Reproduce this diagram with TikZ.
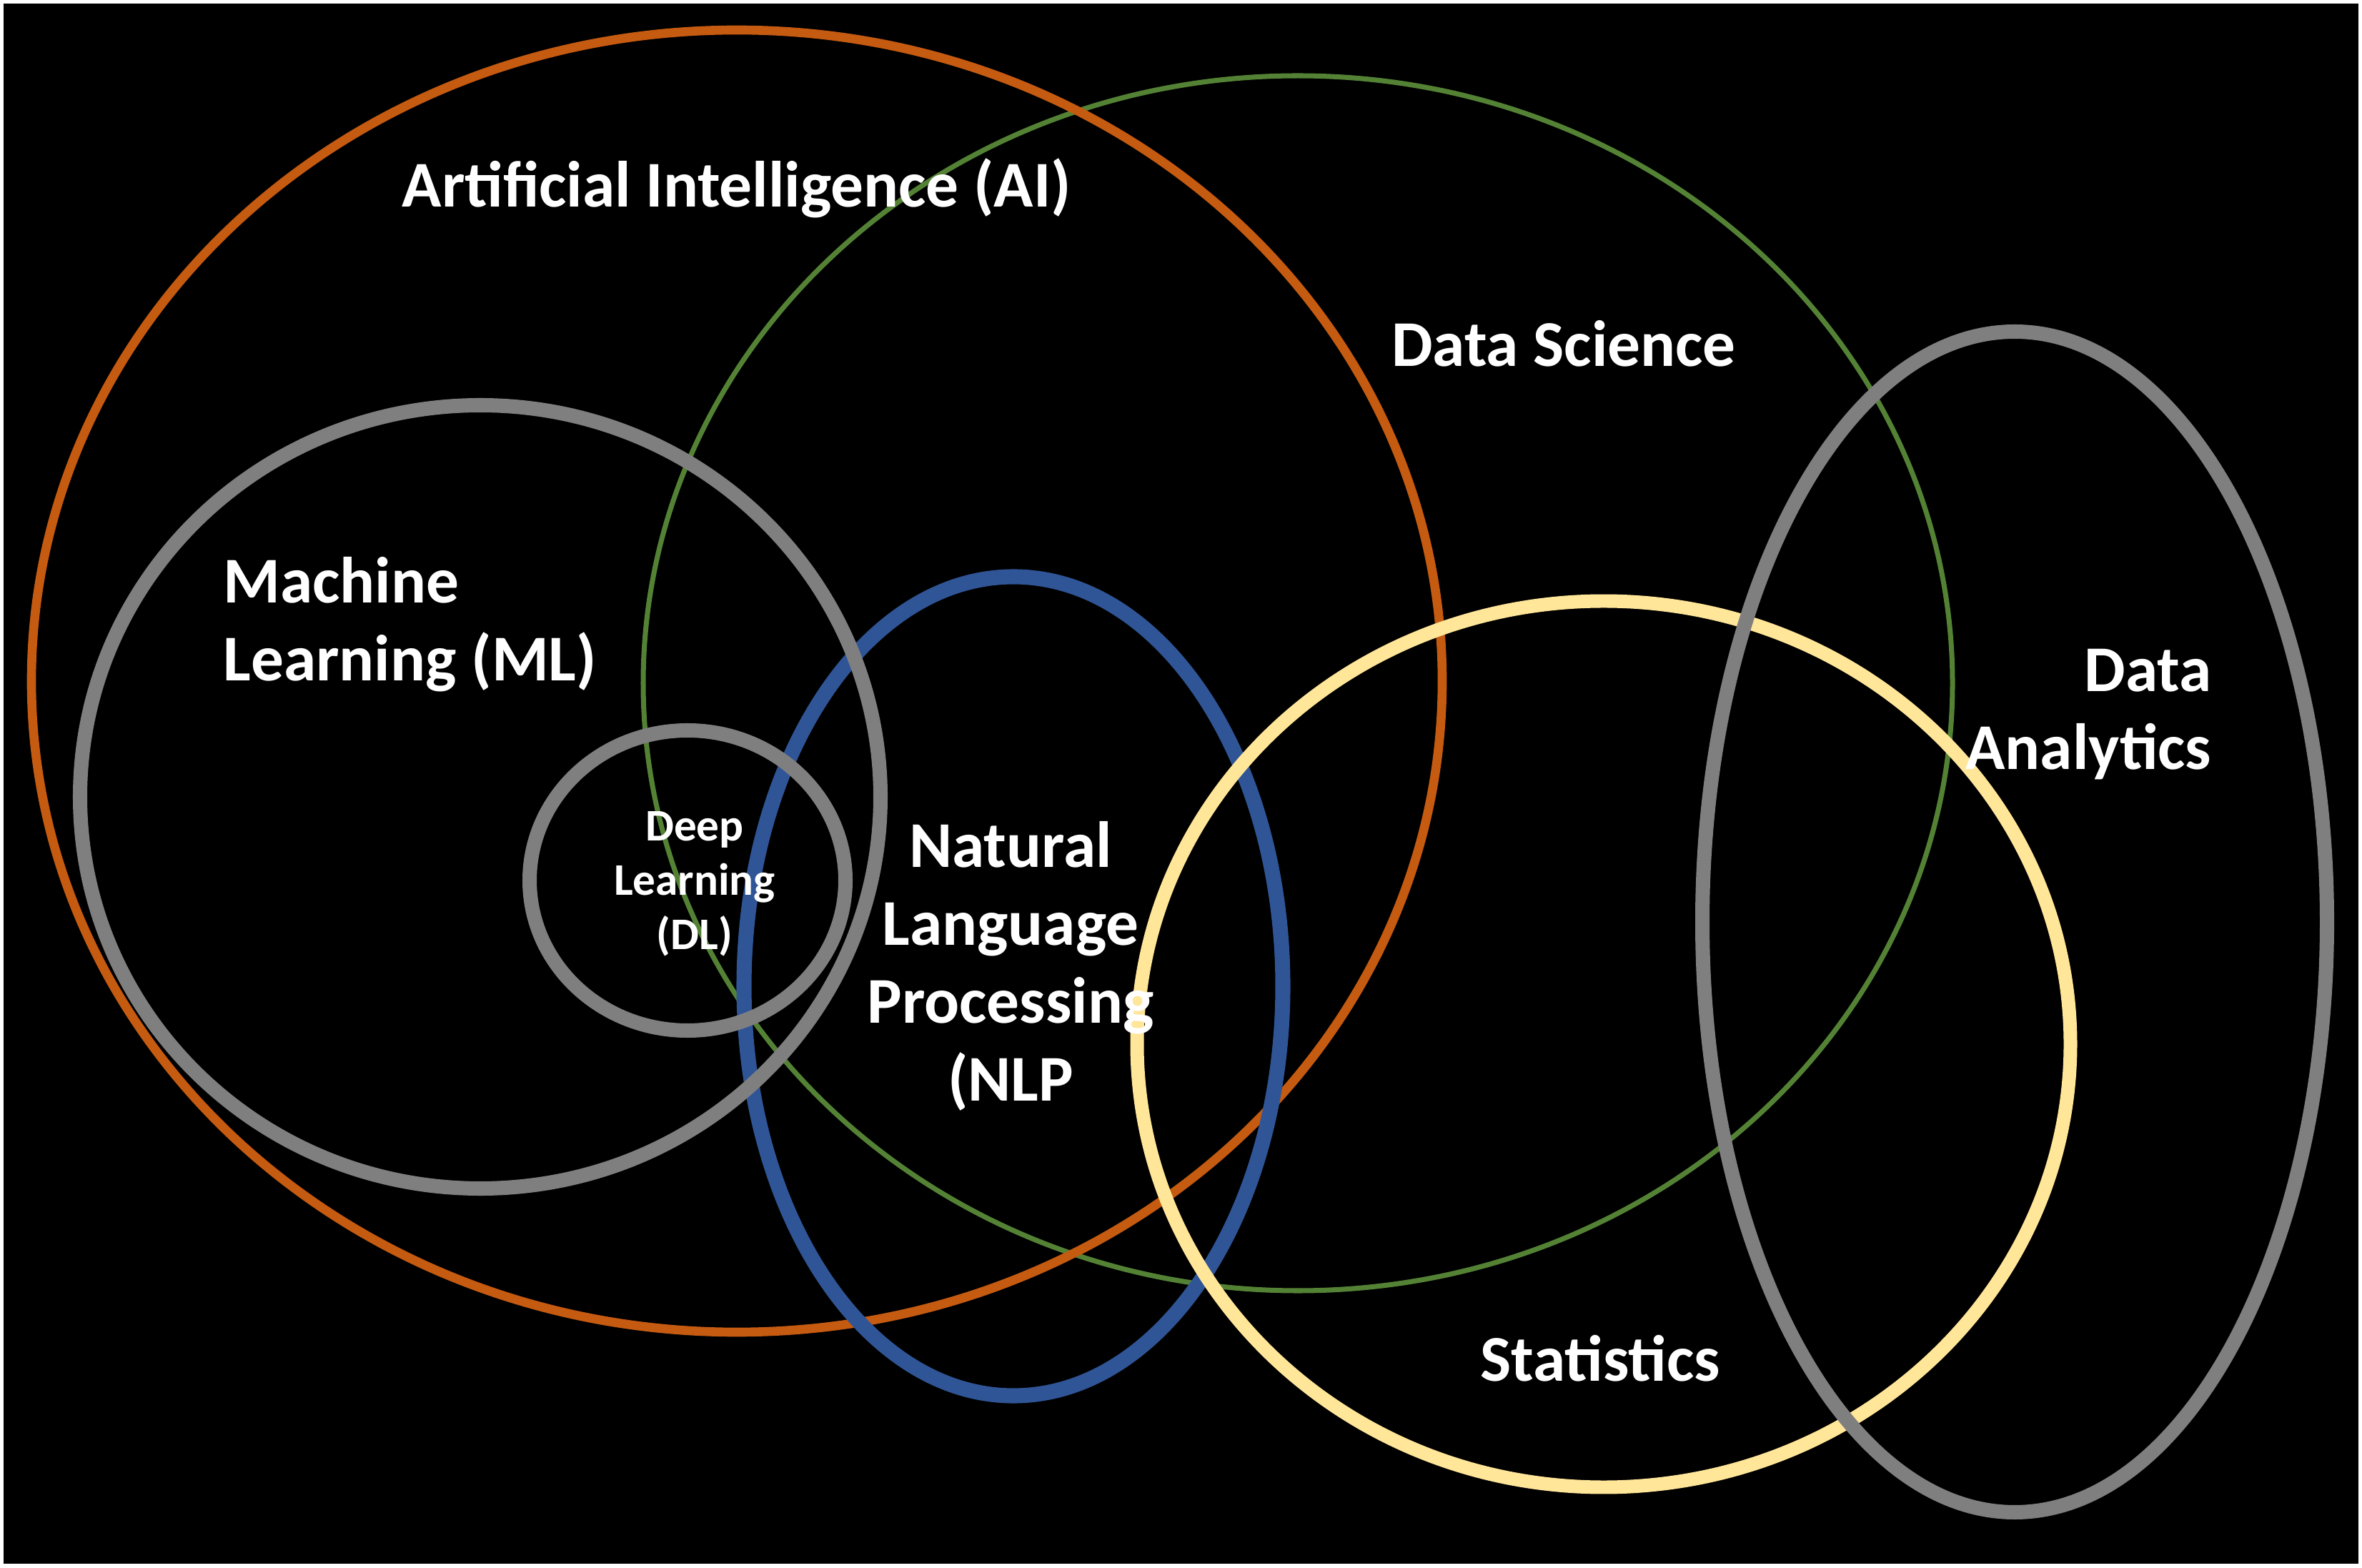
\documentclass[tikz,border=0pt]{standalone}
\usepackage{fontspec}
\setmainfont{Carlito}
\definecolor{aiorange}{HTML}{C55A11}
\definecolor{dsgreen}{HTML}{548235}
\definecolor{mlgray}{HTML}{7F7F7F}
\definecolor{nlpblue}{HTML}{2F5597}
\definecolor{statyellow}{HTML}{FFE699}
\begin{document}
\begin{tikzpicture}[
  big/.style={font=\bfseries\fontsize{26}{31}\selectfont, text=white, inner sep=0pt},
  small/.style={font=\bfseries\fontsize{18}{21.6}\selectfont, text=white, inner sep=0pt},
  ring/.style={line width=5.7pt, draw=mlgray}
]
\useasboundingbox [fill=white] (0,0) rectangle (33.05,21.93);
\fill [black] (0.05,0.05) rectangle (33.00,21.88);

% fields as ellipses
\draw [dsgreen, line width=2pt] (18.16,12.37) ellipse [x radius=9.16, y radius=8.50];
\draw [aiorange, line width=3.6pt] (10.31,12.40) ellipse [x radius=9.87, y radius=9.11];
\draw [nlpblue, line width=6pt] (14.18,8.13) ellipse [x radius=3.77, y radius=5.73];
\draw [ring] (6.72,10.78) ellipse [x radius=5.60, y radius=5.48];
\draw [ring] (9.62,9.61) ellipse [x radius=2.21, y radius=2.10];
\draw [statyellow, line width=5.4pt] (22.44,7.32) ellipse [x radius=6.53, y radius=6.20];
\draw [ring] (28.19,9.03) ellipse [x radius=4.37, y radius=8.26];

% labels
\node [big] (ai) at (10.31,19.30) {Artificial Intelligence (AI)};
\node [big] (ds) at (21.88,17.12) {Data Science};
\node [big, align=left, anchor=west] (ml) at (3.12,13.19) {Machine\\Learning (ML)};
\node [small, align=center] (dl) at (9.72,9.56) {Deep\\Learning\\(DL)};
\node [big, align=center] (nlp) at (14.14,8.41) {Natural\\Language\\Processing\\(NLP};
\node [big, align=right, anchor=east] (da) at (30.95,11.93) {Data\\Analytics};
\node [big] (stat) at (22.39,2.92) {Statistics};
\end{tikzpicture}
\end{document}
